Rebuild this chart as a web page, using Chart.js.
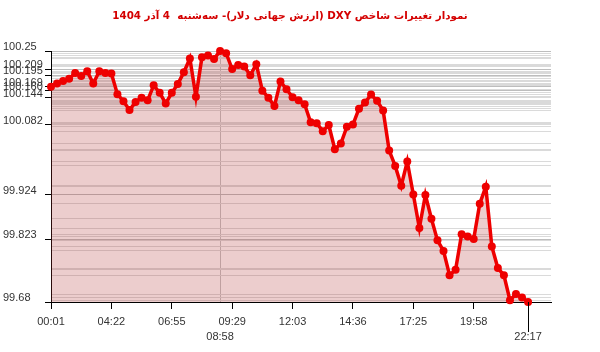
<!DOCTYPE html>
<html>
<head>
<meta charset="utf-8">
<script src="https://cdn.jsdelivr.net/npm/chart.js@4/dist/chart.umd.min.js"></script>
<style>
  html, body { margin: 0; padding: 0; background: #fff; }
  #wrap { width: 600px; height: 352px; }
</style>
</head>
<body>
<div id="wrap"><canvas id="dxyChart" width="600" height="352"></canvas></div>
<script>
var chartTitle = 'نمودار تغییرات شاخص DXY (ارزش جهانی دلار)- سه‌شنبه  4 آذر 1404';

// DXY readings during the day, one per sample
var dxyValues = [
    100.169, 100.176, 100.182, 100.187, 100.200, 100.193, 100.204, 100.176, 100.204, 100.200,
    100.199, 100.152, 100.136, 100.116, 100.134, 100.144, 100.138, 100.172, 100.155, 100.131,
    100.155, 100.175, 100.202, 100.233, 100.146, 100.236, 100.240, 100.232, 100.250, 100.245,
    100.209, 100.218, 100.215, 100.195, 100.220, 100.160, 100.144, 100.125, 100.181, 100.163,
    100.145, 100.138, 100.129, 100.088, 100.086, 100.068, 100.082, 100.027, 100.040, 100.078,
    100.083, 100.119, 100.133, 100.151, 100.137, 100.115, 100.024, 99.989, 99.944, 99.999,
    99.924, 99.848, 99.923, 99.869, 99.820, 99.796, 99.741, 99.753, 99.834, 99.829,
    99.823, 99.903, 99.942, 99.806, 99.757, 99.741, 99.684, 99.698, 99.690, 99.680
];
var sampleIdx = dxyValues.map(function (v, i) { return i; });

// time labels shown under the axis (sample index -> time)
var xTickIdx = [0, 10, 20, 28, 30, 40, 50, 60, 70, 79];
var xTickText = ['00:01', '04:22', '06:55', '08:58', '09:29', '12:03', '14:36', '17:25', '19:58', '22:17'];
var xLowerRow = [28, 79];
var cursorIdx = 28;

// labelled values on the value axis
var yTickValues = [100.25, 100.209, 100.195, 100.169, 100.16, 100.144, 100.082, 99.924, 99.823, 99.68];
var yTickText = ['100.25', '100.209', '100.195', '100.169', '100.160', '100.144', '100.082', '99.924', '99.823', '99.68'];

function labelIndex(v) {
    for (var i = 0; i < yTickValues.length; i++) {
        if (Math.abs(yTickValues[i] - v) < 0.0005) return i;
    }
    return -1;
}

var titlePlugin = {
    id: 'rtlTitle',
    afterDraw: function (chart) {
        var ctx = chart.ctx;
        ctx.save();
        ctx.direction = 'rtl';
        ctx.textAlign = 'center';
        ctx.textBaseline = 'middle';
        ctx.fillStyle = '#d40000';
        ctx.font = 'bold 10.3px "DejaVu Sans"';
        ctx.fillText(chartTitle, 290, 16);
        ctx.restore();
    }
};

var lastTickPlugin = {
    id: 'lastTick',
    afterDraw: function (chart) {
        var xs = chart.scales.x;
        var px = xs.getPixelForValue(sampleIdx[sampleIdx.length - 1]);
        var ctx = chart.ctx;
        ctx.save();
        ctx.strokeStyle = '#000';
        ctx.lineWidth = 1;
        ctx.beginPath();
        ctx.moveTo(Math.round(px) + 0.5, xs.top);
        ctx.lineTo(Math.round(px) + 0.5, xs.top + 30);
        ctx.stroke();
        ctx.restore();
    }
};

var ctx = document.getElementById('dxyChart').getContext('2d');
new Chart(ctx, {
    type: 'line',
    data: {
        labels: sampleIdx,
        datasets: [{
            data: dxyValues,
            borderColor: '#ee0000',
            borderWidth: 3.5,
            pointRadius: 4,
            pointBackgroundColor: '#ee0000',
            pointBorderWidth: 0,
            backgroundColor: 'rgba(175, 45, 45, 0.24)',
            fill: 'start',
            tension: 0,
            clip: false
        }]
    },
    options: {
        responsive: false,
        animation: false,
        layout: { padding: { left: 3, right: 49, top: 51, bottom: 0 } },
        plugins: {
            legend: { display: false },
            title: { display: false },
            tooltip: { enabled: false }
        },
        scales: {
            x: {
                type: 'linear',
                min: 0,
                max: 82.8,
                afterBuildTicks: function (scale) {
                    scale.ticks = xTickIdx.map(function (v) { return { value: v }; });
                },
                afterFit: function (scale) { scale.height = 50; },
                border: { color: '#000', width: 1 },
                grid: {
                    drawOnChartArea: true,
                    color: function (c) { return c.tick && c.tick.value === cursorIdx ? '#c4c4c4' : 'rgba(0,0,0,0)'; },
                    tickColor: function (c) { return c.tick && c.tick.value === cursorIdx ? 'rgba(0,0,0,0)' : '#000'; },
                    tickLength: 7
                },
                ticks: {
                    autoSkip: false,
                    maxRotation: 0,
                    padding: 6,
                    color: '#333',
                    font: { family: '"Liberation Sans", Arial, sans-serif', size: 11, lineHeight: 1.35 },
                    callback: function (value) {
                        var i = xTickIdx.indexOf(value);
                        if (i < 0) return '';
                        return xLowerRow.indexOf(value) >= 0 ? ['', xTickText[i]] : xTickText[i];
                    }
                }
            },
            y: {
                min: 99.68,
                max: 100.25,
                afterBuildTicks: function (scale) {
                    var vals = dxyValues.concat(yTickValues);
                    var seen = {};
                    var list = [];
                    vals.forEach(function (v) {
                        var k = v.toFixed(3);
                        if (!seen[k]) { seen[k] = true; list.push(v); }
                    });
                    list.sort(function (a, b) { return a - b; });
                    scale.ticks = list.map(function (v) { return { value: v }; });
                },
                afterFit: function (scale) { scale.width = 48; },
                border: { color: '#000', width: 1 },
                grid: {
                    color: function (c) { return c.tick && labelIndex(c.tick.value) >= 0 ? '#bdbdbd' : '#dadada'; },
                    tickColor: function (c) { return c.tick && labelIndex(c.tick.value) >= 0 ? '#000' : 'rgba(0,0,0,0)'; },
                    tickLength: 6
                },
                ticks: {
                    autoSkip: false,
                    crossAlign: 'far',
                    labelOffset: -4,
                    color: '#333',
                    font: { family: '"Liberation Sans", Arial, sans-serif', size: 11 },
                    callback: function (value) {
                        var i = labelIndex(value);
                        return i >= 0 ? yTickText[i] : '';
                    }
                }
            }
        }
    },
    plugins: [titlePlugin, lastTickPlugin]
});
</script>
</body>
</html>
